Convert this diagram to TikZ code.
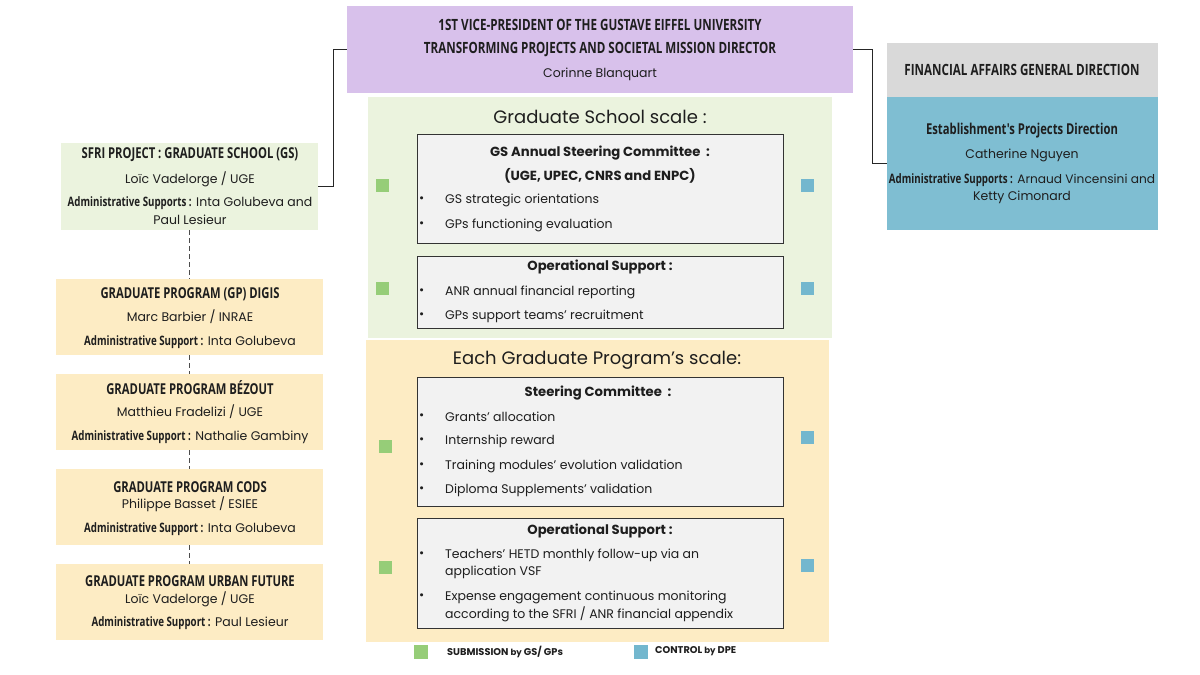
\documentclass[tikz,border=0pt]{standalone}
\usepackage{fontspec}
\setmainfont{Poppins}
\newfontfamily\condf[FakeStretch=0.75]{Open Sans}
\definecolor{purp}{RGB}{216,193,235}
\definecolor{greyhd}{RGB}{217,217,217}
\definecolor{dpeblue}{RGB}{127,190,210}
\definecolor{gsgreen}{RGB}{235,243,222}
\definecolor{gpyellow}{RGB}{253,236,196}
\definecolor{inner}{RGB}{242,242,242}
\definecolor{sqgreen}{RGB}{150,205,120}
\definecolor{sqblue}{RGB}{115,183,206}
\definecolor{txt}{RGB}{30,30,30}
\tikzset{
  x=1pt, y=-1pt,
  panel/.style={inner sep=0pt, outer sep=0pt, anchor=north west},
  framebox/.style={panel, fill=inner, draw=black!80, line width=0.9pt},
  hd/.style={inner sep=0pt, text=txt, font=\condf\bfseries\fontsize{15.5}{17}\selectfont},
  hdsm/.style={inner sep=0pt, text=txt, font=\condf\bfseries\fontsize{15}{17}\selectfont},
  body/.style={inner sep=0pt, text=txt, font=\fontsize{12.5}{14}\selectfont},
  bodyb/.style={inner sep=0pt, text=txt, font=\bfseries\fontsize{13.2}{15}\selectfont},
  big/.style={inner sep=0pt, text=txt, font=\fontsize{18}{20}\selectfont},
  bul/.style={inner sep=0pt, text=txt, anchor=west, font=\fontsize{12.5}{14}\selectfont},
  sq/.style={inner sep=0pt, outer sep=0pt, minimum size=13pt, anchor=north west},
  legtxt/.style={inner sep=0pt, anchor=west, text=txt, font=\bfseries\fontsize{9.8}{11}\selectfont},
  link/.style={draw=black!85, line width=0.9pt},
  dlink/.style={draw=black!70, line width=0.9pt, dash pattern=on 5pt off 3pt},
}
\newcommand{\admlab}[1]{{\condf\bfseries\fontsize{13}{15}\selectfont #1}}
\begin{document}
\begin{tikzpicture}
\useasboundingbox[fill=white] (0,0) rectangle (1200,675);

% top box
\node[panel, fill=purp, minimum width=506pt, minimum height=87pt] (vp) at (347,6) {};
\node[hd] (vpa) at (600,25) {1ST VICE-PRESIDENT OF THE GUSTAVE EIFFEL UNIVERSITY};
\node[hd] (vpb) at (600,50) {TRANSFORMING PROJECTS AND SOCIETAL MISSION DIRECTOR};
\node[body] (vpc) at (600,74) {Corinne Blanquart};

% right boxes
\node[panel, fill=greyhd, minimum width=271pt, minimum height=54pt] (fin) at (887,43) {};
\node[hd] (fina) at (1022,70) {FINANCIAL AFFAIRS GENERAL DIRECTION};
\node[panel, fill=dpeblue, minimum width=271pt, minimum height=133pt] (dpe) at (887,97) {};
\node[hdsm] (dpea) at (1022,131) {Establishment's Projects Direction};
\node[body] (dpeb) at (1022,155) {Catherine Nguyen};
\node[inner sep=0pt, text=txt, font=\fontsize{12.2}{14}\selectfont] (dpec) at (1022,180) {\admlab{Administrative Supports :} Arnaud Vincensini and};
\node[body] (dped) at (1022,197) {Ketty Cimonard};

% middle regions
\node[panel, fill=gsgreen, minimum width=464pt, minimum height=241pt] (gs) at (368,97) {};
\node[panel, fill=gpyellow, minimum width=463pt, minimum height=302pt] (gp) at (366,340) {};
\node[big] (gst) at (600,117) {Graduate School scale :};
\node[big] (gpt) at (597,360) {Each Graduate Program's scale:};

\node[framebox, minimum width=366pt, minimum height=109pt] (gsc) at (417,134) {};
\node[bodyb] (gsca) at (600,153) {GS Annual Steering Committee~~:};
\node[bodyb] (gscb) at (600,176) {(UGE, UPEC, CNRS and ENPC)};
\node[bul] (gscc) at (419,200) {\textbullet}; \node[bul] (gscd) at (445,200) {GS strategic orientations};
\node[bul] (gsce) at (419,225) {\textbullet}; \node[bul] (gscf) at (445,225) {GPs functioning evaluation};

\node[framebox, minimum width=366pt, minimum height=72pt] (gso) at (417,256) {};
\node[bodyb] (gsoa) at (600,267) {Operational Support :};
\node[bul] (gsob) at (419,292) {\textbullet}; \node[bul] (gsoc) at (445,292) {ANR annual financial reporting};
\node[bul] (gsod) at (419,316) {\textbullet}; \node[bul] (gsoe) at (445,316) {GPs support teams' recruitment};

\node[framebox, minimum width=366pt, minimum height=129pt] (gpc) at (417,377) {};
\node[bodyb] (gpca) at (598,393) {Steering Committee~~:};
\node[bul] (gpcb) at (419,417) {\textbullet}; \node[bul] (gpcc) at (445,417) {Grants' allocation};
\node[bul] (gpcd) at (419,441) {\textbullet}; \node[bul] (gpce) at (445,441) {Internship reward};
\node[bul] (gpcf) at (419,466) {\textbullet}; \node[bul] (gpcg) at (445,466) {Training modules' evolution validation};
\node[bul] (gpch) at (419,490) {\textbullet}; \node[bul] (gpci) at (445,490) {Diploma Supplements' validation};

\node[framebox, minimum width=366pt, minimum height=110pt] (gpo) at (417,518) {};
\node[bodyb] (gpoa) at (600,531) {Operational Support :};
\node[bul] (gpob) at (419,555) {\textbullet}; \node[bul] (gpoc) at (445,555) {Teachers' HETD monthly follow-up via an};
\node[bul] (gpod) at (445,572) {application VSF};
\node[bul] (gpoe) at (419,597) {\textbullet}; \node[bul] (gpof) at (445,597) {Expense engagement continuous monitoring};
\node[bul] (gpog) at (445,614) {according to the SFRI / ANR financial appendix};

% squares
\node[sq, fill=sqgreen] (g1) at (376,179) {};
\node[sq, fill=sqgreen] (g2) at (376,282) {};
\node[sq, fill=sqgreen] (g3) at (379,440) {};
\node[sq, fill=sqgreen] (g4) at (379,561) {};
\node[sq, fill=sqblue] (b1) at (801,179) {};
\node[sq, fill=sqblue] (b2) at (801,282) {};
\node[sq, fill=sqblue] (b3) at (801,431) {};
\node[sq, fill=sqblue] (b4) at (801,559) {};

% legend
\node[sq, fill=sqgreen, minimum size=14pt] (lg) at (414,645) {};
\node[legtxt] (lgt) at (447,652) {SUBMISSION {\fontsize{8.6}{10}\selectfont by} GS/ GPs};
\node[sq, fill=sqblue, minimum size=14pt] (lb) at (634,645) {};
\node[legtxt] (lbt) at (655,651) {CONTROL {\fontsize{8.6}{10}\selectfont by} DPE};

% left column
\node[panel, fill=gsgreen, minimum width=257pt, minimum height=87pt] (sfri) at (61,143) {};
\node[hdsm] (sfria) at (190,155) {SFRI PROJECT : GRADUATE SCHOOL (GS)};
\node[body] (sfrib) at (190,179) {Loïc Vadelorge / UGE};
\node[body] (sfric) at (190,203) {\admlab{Administrative Supports :} Inta Golubeva and};
\node[body] (sfrid) at (190,220) {Paul Lesieur};

\node[panel, fill=gpyellow, minimum width=267pt, minimum height=76pt] (digis) at (56,279) {};
\node[hdsm] (digisa) at (190,294) {GRADUATE PROGRAM (GP) DIGIS};
\node[body] (digisb) at (190,317) {Marc Barbier / INRAE};
\node[body] (digisc) at (190,342) {\admlab{Administrative Support :} Inta Golubeva};

\node[panel, fill=gpyellow, minimum width=267pt, minimum height=76pt] (bez) at (56,374) {};
\node[hdsm] (beza) at (190,388) {GRADUATE PROGRAM BÉZOUT};
\node[body] (bezb) at (190,412) {Matthieu Fradelizi / UGE};
\node[body] (bezc) at (190,437) {\admlab{Administrative Support :} Nathalie Gambiny};

\node[panel, fill=gpyellow, minimum width=267pt, minimum height=76pt] (cods) at (56,469) {};
\node[hdsm] (codsa) at (190,487) {GRADUATE PROGRAM CODS};
\node[body] (codsb) at (190,504) {Philippe Basset / ESIEE};
\node[body] (codsc) at (190,529) {\admlab{Administrative Support :} Inta Golubeva};

\node[panel, fill=gpyellow, minimum width=267pt, minimum height=76pt] (urb) at (56,564) {};
\node[hdsm] (urba) at (190,581) {GRADUATE PROGRAM URBAN FUTURE};
\node[body] (urbb) at (190,599) {Loïc Vadelorge / UGE};
\node[body] (urbc) at (190,623) {\admlab{Administrative Support :} Paul Lesieur};

% connectors
\draw[link] (sfri.east) -- ++(15,0) |- (vp.west);
\draw[link] (vp.east) -- ++(19,0) |- (dpe.west);
\draw[dlink] (sfri.south) -- (sfri.south |- digis.north);
\draw[dlink] (digis.south -| sfri.south) -- (sfri.south |- bez.north);
\draw[dlink] (bez.south -| sfri.south) -- (sfri.south |- cods.north);
\draw[dlink] (cods.south -| sfri.south) -- (sfri.south |- urb.north);
\end{tikzpicture}
\end{document}
